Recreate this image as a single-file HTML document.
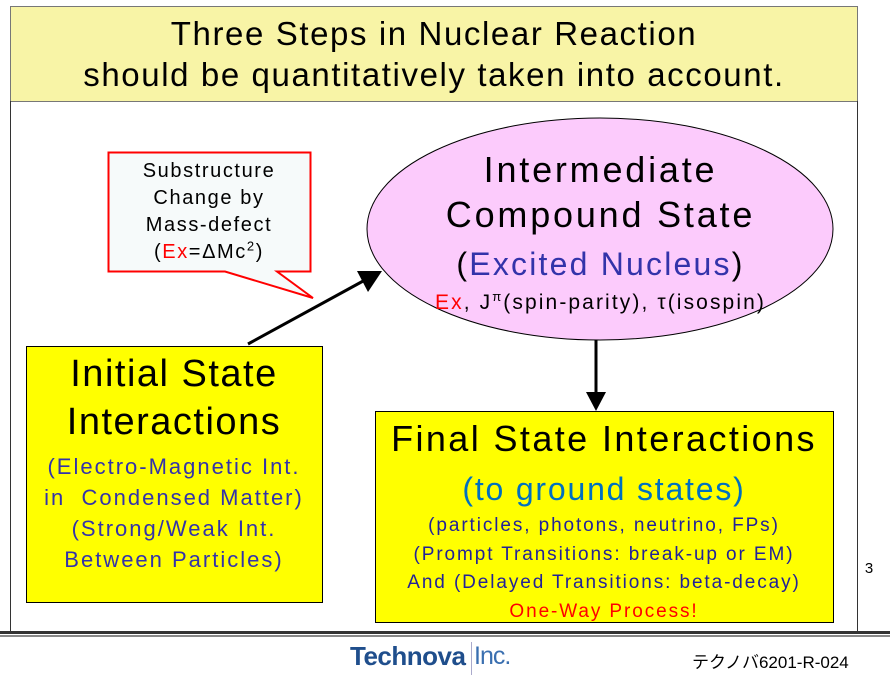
<!DOCTYPE html>
<html><head><meta charset="utf-8"><style>
body{margin:0;width:890px;height:683px;background:#fff;position:relative;overflow:hidden;font-family:"Liberation Sans",sans-serif}
.a{position:absolute;text-align:center;white-space:nowrap}
</style></head><body>
<svg width="890" height="683" style="position:absolute;left:0;top:0">
<rect x="10.5" y="6.5" width="847" height="95" fill="#f8f4a6" stroke="#777" stroke-width="1"/>
<line x1="10.5" y1="101" x2="10.5" y2="632" stroke="#333"/>
<line x1="857.5" y1="101" x2="857.5" y2="632" stroke="#333"/>
<rect x="0" y="631" width="890" height="3" fill="#333"/>
<rect x="0" y="635" width="890" height="2" fill="#888"/>
<ellipse cx="600" cy="229" rx="233" ry="111" fill="#fccbfc" stroke="#000"/>
<path d="M108.5 152.5 H310.5 V271.5 H277 L313 298 L225 271.5 H108.5 Z" fill="#f6fafa" stroke="#f00" stroke-width="2"/>
<line x1="248" y1="344" x2="365" y2="280" stroke="#000" stroke-width="3"/>
<polygon points="382,271 357,271 368,292" fill="#000"/>
<line x1="596" y1="340" x2="596" y2="394" stroke="#000" stroke-width="3"/>
<polygon points="586,392 606,392 596,411" fill="#000"/>
<rect x="26.5" y="346.5" width="296" height="256" fill="#ffff00" stroke="#000"/>
<rect x="375.5" y="411.5" width="458" height="211" fill="#ffff00" stroke="#000"/>
<line x1="471.5" y1="642" x2="471.5" y2="675" stroke="#aac"/>
</svg>
<div class="a" style="left:10px;top:13px;width:848px;font-size:33px;line-height:41px;letter-spacing:1.6px">Three Steps in Nuclear Reaction<br>should be quantitatively taken into account.</div>
<div class="a" style="left:108px;top:158px;width:202px;font-size:20px;line-height:27px;letter-spacing:1.6px">Substructure<br>Change by<br>Mass-defect<br>(<span style="color:#f00">Ex</span>=ΔMc<sup style="font-size:13px;line-height:0">2</sup>)</div>
<div class="a" style="left:368px;top:147px;width:465px;font-size:36px;line-height:45px;letter-spacing:2.8px">Intermediate<br>Compound State</div>
<div class="a" style="left:368px;top:244px;width:465px;font-size:32px;line-height:40px;letter-spacing:2.2px">(<span style="color:#3333aa">Excited Nucleus</span>)</div>
<div class="a" style="left:368px;top:289px;width:465px;font-size:21px;line-height:28px;letter-spacing:2.1px"><span style="color:#f00">Ex</span>, J<sup style="font-size:13px;line-height:0">π</sup>(spin-parity), τ(isospin)</div>
<div class="a" style="left:26px;top:350px;width:296px;font-size:38px;line-height:48px;letter-spacing:1.5px">Initial State<br>Interactions</div>
<div class="a" style="left:26px;top:451px;width:296px;font-size:22px;line-height:31px;color:#3333aa;letter-spacing:2px">(Electro-Magnetic Int.<br>in&nbsp; Condensed Matter)<br>(Strong/Weak Int.<br>Between Particles)</div>
<div class="a" style="left:375px;top:416px;width:458px;font-size:36px;line-height:45px;letter-spacing:2.4px">Final State Interactions</div>
<div class="a" style="left:375px;top:469px;width:458px;font-size:32px;line-height:40px;color:#0070c0;letter-spacing:1.8px">(to ground states)</div>
<div class="a" style="left:375px;top:512px;width:458px;font-size:19px;line-height:28.5px;color:#222299;letter-spacing:1.9px">(particles, photons, neutrino, FPs)<br>(Prompt Transitions: break-up or EM)<br>And (Delayed Transitions: beta-decay)<br><span style="color:#f00">One-Way Process!</span></div>
<div class="a" style="left:860px;top:560px;width:18px;font-size:15px">3</div>
<div class="a" style="left:350px;top:641px;font-size:26px;font-weight:bold;color:#1f4e8c;letter-spacing:-0.5px">Technova</div>
<div class="a" style="left:474px;top:642px;font-size:25px;color:#3a6fb0;letter-spacing:-1px">Inc.</div>
<div class="a" style="left:692px;top:648px;font-size:17px;font-family:'Liberation Sans','Noto Sans CJK JP',sans-serif">テクノバ6201-R-024</div>
</body></html>
